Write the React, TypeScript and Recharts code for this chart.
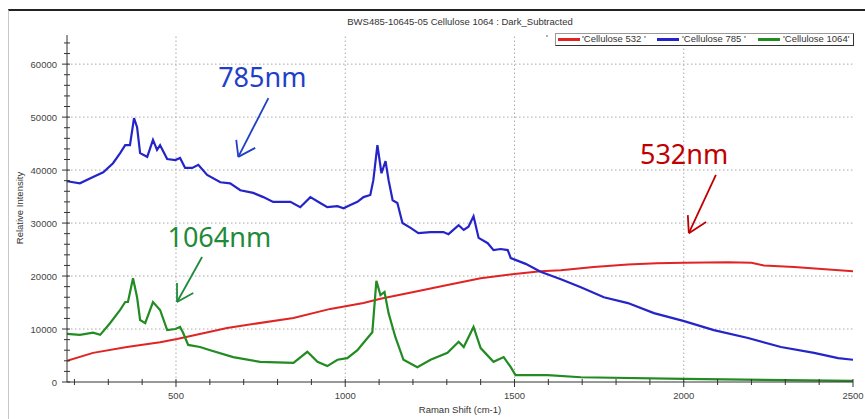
import React from 'react';
import { LineChart, Line, XAxis, YAxis, ReferenceLine, ReferenceDot } from 'recharts';

const FONT = '"Liberation Sans", Arial, sans-serif';

const xTicks = [200, 300, 400, 500, 600, 700, 800, 900, 1000, 1100, 1200, 1300, 1400, 1500, 1600, 1700, 1800, 1900, 2000, 2100, 2200, 2300, 2400, 2500];
const yTicks = [0, 2000, 4000, 6000, 8000, 10000, 12000, 14000, 16000, 18000, 20000, 22000, 24000, 26000, 28000, 30000, 32000, 34000, 36000, 38000, 40000, 42000, 44000, 46000, 48000, 50000, 52000, 54000, 56000, 58000, 60000, 62000, 64000];
const xGrid = [500, 1000, 1500, 2000];
const yGrid = [10000, 20000, 30000, 40000, 50000, 60000];

const redShift = [178, 255, 355, 453, 503, 651, 847, 956, 1054, 1104, 1202, 1302, 1400, 1500, 1577, 1637, 1734, 1835, 1920, 2001, 2131, 2200, 2237, 2326, 2500];
const redIntensity = [4000, 5500, 6600, 7500, 8100, 10200, 12100, 13800, 14900, 15700, 17000, 18300, 19600, 20400, 20900, 21100, 21700, 22200, 22400, 22500, 22600, 22500, 22000, 21700, 20900];

const blueShift = [178, 216, 255, 285, 314, 335, 350, 364, 376, 385, 394, 415, 432, 444, 453, 474, 498, 512, 527, 548, 566, 592, 631, 660, 690, 728, 758, 787, 838, 867, 897, 926, 947, 977, 995, 1015, 1036, 1054, 1074, 1083, 1095, 1107, 1119, 1128, 1140, 1154, 1169, 1193, 1216, 1252, 1290, 1305, 1335, 1350, 1364, 1379, 1394, 1421, 1438, 1459, 1480, 1489, 1533, 1577, 1637, 1696, 1764, 1835, 1912, 2001, 2089, 2190, 2287, 2385, 2456, 2500];
const blueIntensity = [37900, 37500, 38700, 39600, 41300, 43200, 44700, 44700, 49800, 48100, 43200, 42500, 45700, 43800, 44700, 42100, 41900, 42300, 40400, 40400, 41000, 39100, 37700, 37500, 36200, 35700, 34900, 34000, 34000, 33000, 34900, 33800, 33000, 33200, 32800, 33400, 34000, 34900, 35300, 38100, 44700, 39400, 41700, 38100, 34300, 33800, 30000, 29100, 28100, 28300, 28300, 27900, 29600, 28700, 29300, 31300, 27200, 26200, 24900, 25100, 24900, 23400, 22300, 20800, 19400, 17900, 16000, 14900, 13000, 11500, 9800, 8300, 6600, 5500, 4500, 4200];

const greenShift = [178, 216, 255, 276, 305, 335, 350, 358, 373, 385, 394, 409, 432, 453, 474, 498, 512, 521, 536, 571, 601, 669, 749, 847, 888, 918, 947, 977, 1006, 1036, 1054, 1080, 1092, 1104, 1116, 1128, 1148, 1172, 1213, 1252, 1302, 1335, 1350, 1379, 1400, 1438, 1468, 1489, 1503, 1598, 1696, 2001, 2500];
const greenIntensity = [9100, 8900, 9300, 8900, 11100, 13600, 15100, 15100, 19600, 16000, 11700, 11100, 15100, 13600, 9800, 10000, 10400, 9300, 7000, 6600, 6000, 4700, 3800, 3600, 5700, 3800, 3000, 4200, 4500, 6000, 7400, 9400, 19100, 16400, 17000, 13000, 8500, 4200, 2800, 4200, 5500, 7600, 6600, 10400, 6400, 3800, 4700, 2800, 1300, 1300, 900, 600, 200];

const seriesNames = ["'Cellulose 532 '", "'Cellulose 785 '", "'Cellulose 1064'"];
const seriesColors = ['#e02424', '#2424c8', '#228b22'];

// annotations in data units: [labelX, labelY, startX, startY, tipX, tipY, head1X, head1Y, head2X, head2Y]
const annot785 = [755, 57400, 773, 53600, 684, 42500, 678, 45700, 734, 44200];
const annot532 = [2001, 42900, 2095, 39100, 2015, 28100, 2012, 31500, 2066, 30200];
const annot1064 = [628, 27200, 577, 23600, 503, 15100, 503, 18700, 551, 16800];
const annotTexts = ['785nm', '532nm', '1064nm'];
const annotColors = ['#1f3fc8', '#c00000', '#1f8a3a'];

const zip = (xs: number[], ys: number[]) => xs.map((x, i) => ({ x, y: ys[i] }));
const redData = zip(redShift, redIntensity);
const blueData = zip(blueShift, blueIntensity);
const greenData = zip(greenShift, greenIntensity);

const XTick = (p: any) => {
  const v = p.payload.value;
  const major = v % 500 === 0;
  return (
    <g>
      <line x1={p.x} x2={p.x} y1={p.y - 3} y2={p.y + (major ? 5 : 3)} stroke="#333" strokeWidth={1} />
      {major && (
        <text x={p.x} y={p.y + 17} textAnchor="middle" fontSize={9.5} fontFamily={FONT} fill="#444">{v}</text>
      )}
    </g>
  );
};

const YTick = (p: any) => {
  const v = p.payload.value;
  const major = v % 10000 === 0;
  return (
    <g>
      <line x1={p.x - (major ? 5 : 3)} x2={p.x + 3} y1={p.y} y2={p.y} stroke="#333" strokeWidth={1} />
      {major && (
        <text x={p.x - 10} y={p.y + 3.5} textAnchor="end" fontSize={9.5} fontFamily={FONT} fill="#444">{v}</text>
      )}
    </g>
  );
};

const TopTick = (p: any) => (
  <line x1={p.x} x2={p.x} y1={p.y} y2={p.y + 3} stroke="#444" strokeWidth={1} />
);

const RightTick = (p: any) => (
  <line x1={p.x - 3} x2={p.x} y1={p.y} y2={p.y} stroke="#444" strokeWidth={1} />
);

const renderAnnot = (a: number[], i: number) => {
  const c = annotColors[i];
  return [
    <ReferenceLine key={`s${i}`} segment={[{ x: a[2], y: a[3] }, { x: a[4], y: a[5] }]} stroke={c} strokeWidth={1.8} ifOverflow="visible" />,
    <ReferenceLine key={`h1${i}`} segment={[{ x: a[6], y: a[7] }, { x: a[4], y: a[5] }]} stroke={c} strokeWidth={1.8} ifOverflow="visible" />,
    <ReferenceLine key={`h2${i}`} segment={[{ x: a[8], y: a[9] }, { x: a[4], y: a[5] }]} stroke={c} strokeWidth={1.8} ifOverflow="visible" />,
    <ReferenceDot key={`t${i}`} x={a[0]} y={a[1]} r={0} fill="none" stroke="none" ifOverflow="visible"
      label={{ value: annotTexts[i], fill: c, fontSize: 27, fontFamily: '"Noto Sans", "Open Sans", sans-serif', position: 'center' }} />,
  ];
};

export default function App() {
  return (
    <div style={{ position: 'absolute', left: 0, top: 0, width: 865, height: 419, background: '#fff', overflow: 'hidden' }}>
      <div style={{ position: 'absolute', left: 8, top: 9, width: 857, height: 410, borderTop: '2px solid #222', borderLeft: '1px solid #c8c8c8', boxSizing: 'border-box' }} />
      <div style={{ position: 'absolute', left: 67, top: 16, width: 786, textAlign: 'center', fontSize: 9.5, fontFamily: FONT, color: '#333', lineHeight: '12px' }}>
        BWS485-10645-05 Cellulose 1064 : Dark_Subtracted
      </div>
      <LineChart width={865} height={419} margin={{ top: 35, right: 12, bottom: 7, left: 0 }} style={{ position: 'absolute', left: 0, top: 0 }}>
        <XAxis xAxisId={0} dataKey="x" type="number" domain={[178, 2500]} ticks={xTicks} interval={0} allowDataOverflow
          height={30} tickSize={0} tickMargin={0} tickLine={false} axisLine={{ stroke: '#333' }} tick={(p: any) => <XTick {...p} />} />
        <XAxis xAxisId="top" orientation="top" dataKey="x" type="number" domain={[178, 2500]} ticks={xTicks} interval={0} allowDataOverflow
          height={0} tickSize={0} tickMargin={0} tickLine={false} axisLine={{ stroke: '#444' }} tick={(p: any) => <TopTick {...p} />} />
        <YAxis yAxisId={0} type="number" domain={[0, 65500]} ticks={yTicks} interval={0} allowDataOverflow
          width={67} tickSize={0} tickMargin={0} tickLine={false} axisLine={{ stroke: '#333' }} tick={(p: any) => <YTick {...p} />} />
        <YAxis yAxisId="right" orientation="right" type="number" domain={[0, 65500]} ticks={yTicks} interval={0} allowDataOverflow
          width={0} tickSize={0} tickMargin={0} tickLine={false} axisLine={{ stroke: '#444' }} tick={(p: any) => <RightTick {...p} />} />
        {yGrid.map((v) => (
          <ReferenceLine key={`gy${v}`} y={v} stroke="#aaa" strokeDasharray="1.5 2.5" />
        ))}
        {xGrid.map((v) => (
          <ReferenceLine key={`gx${v}`} x={v} stroke="#aaa" strokeDasharray="1.5 2.5" />
        ))}
        <Line data={redData} dataKey="y" stroke={seriesColors[0]} strokeWidth={2} dot={false} isAnimationActive={false} />
        <Line data={blueData} dataKey="y" stroke={seriesColors[1]} strokeWidth={2.2} dot={false} isAnimationActive={false} />
        <Line data={greenData} dataKey="y" stroke={seriesColors[2]} strokeWidth={2.2} dot={false} isAnimationActive={false} />
        {renderAnnot(annot785, 0)}
        {renderAnnot(annot532, 1)}
        {renderAnnot(annot1064, 2)}
      </LineChart>
      <div style={{ position: 'absolute', left: 20, top: 208, width: 0, height: 0 }}>
        <div style={{ position: 'absolute', left: -60, top: -6, width: 120, textAlign: 'center', transform: 'rotate(-90deg)', fontSize: 9.5, fontFamily: FONT, color: '#333', lineHeight: '12px', whiteSpace: 'nowrap' }}>
          Relative Intensity
        </div>
      </div>
      <div style={{ position: 'absolute', left: 67, top: 404, width: 786, textAlign: 'center', fontSize: 9.5, fontFamily: FONT, color: '#333', lineHeight: '12px' }}>
        Raman Shift (cm-1)
      </div>
      <div style={{ position: 'absolute', left: 546, top: 32, fontSize: 9.5, fontFamily: FONT, color: '#333', lineHeight: '12px' }}>'</div>
      <div style={{ position: 'absolute', left: 555, top: 33, width: 299, height: 13, border: '1px solid #999', borderRightColor: '#333', borderBottomColor: '#333', background: '#fff', boxSizing: 'border-box', overflow: 'hidden', fontSize: 9.5, fontFamily: FONT, color: '#333', whiteSpace: 'nowrap' }}>
        {seriesNames.map((n, i) => {
          const sw = [2, 101, 202][i];
          const tx = [26, 126, 227][i];
          return (
            <React.Fragment key={n}>
              <div style={{ position: 'absolute', left: sw, top: 4, width: 22, height: 2.5, background: seriesColors[i] }} />
              <div style={{ position: 'absolute', left: tx, top: -1, lineHeight: '12px' }}>{n}</div>
            </React.Fragment>
          );
        })}
      </div>
    </div>
  );
}
